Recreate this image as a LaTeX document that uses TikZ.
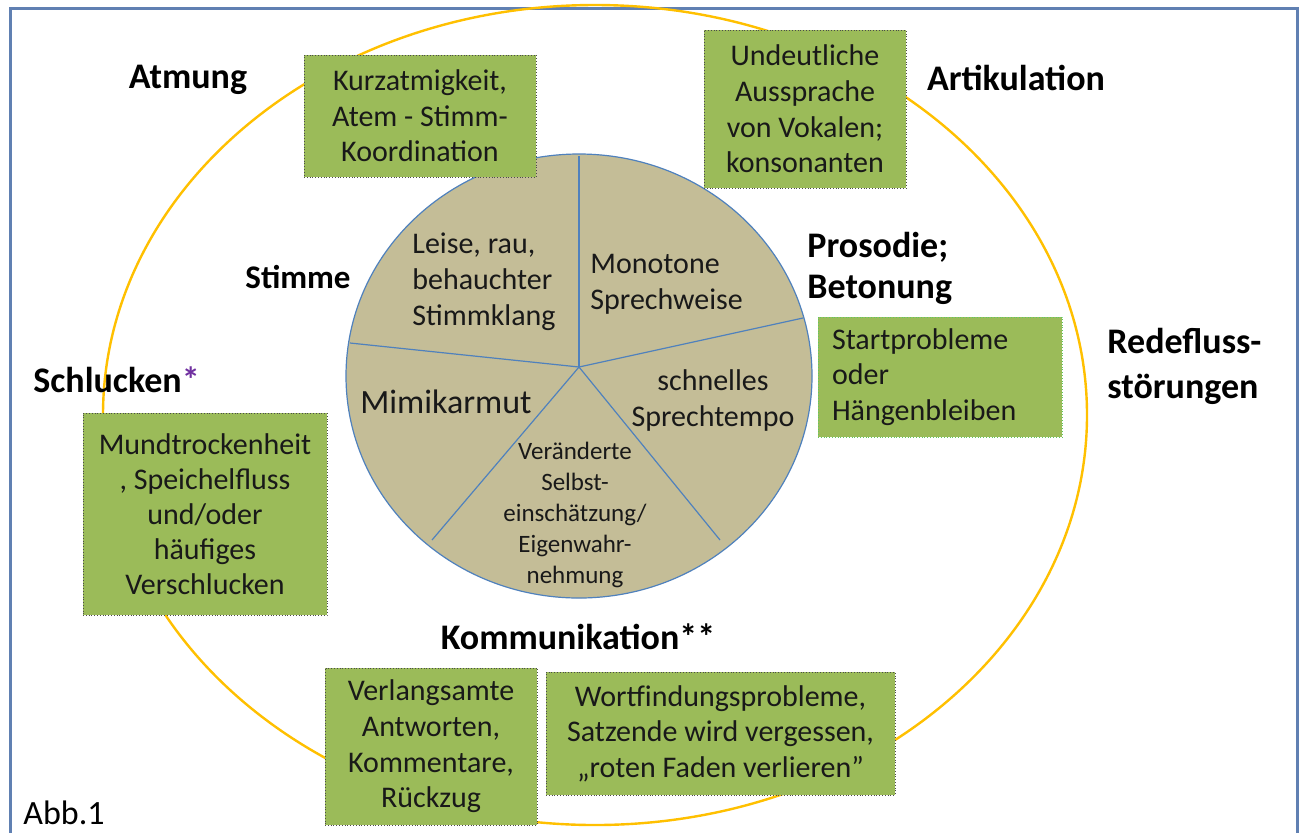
\documentclass[tikz,border=0pt]{standalone}
\usepackage{fontspec}
\setmainfont{Carlito}
\definecolor{cadre}{RGB}{96,128,178}
\definecolor{ovale}{RGB}{255,192,0}
\definecolor{tarte}{RGB}{196,189,151}
\definecolor{trait}{RGB}{79,129,189}
\definecolor{vert}{RGB}{155,187,89}
\definecolor{vertclair}{RGB}{96,200,96}
\definecolor{etoile}{RGB}{112,48,160}
\tikzset{
  kasten/.style={draw=black!70,densely dotted,fill=vert,text=black!90,align=center,inner sep=0pt,font=\fontsize{15}{17.8}\selectfont},
  titel/.style={inner sep=0pt,font=\fontsize{18}{20.5}\selectfont\bfseries},
  stueck/.style={inner sep=0pt,text=black!90,font=\fontsize{15}{18}\selectfont}
}
\begin{document}
\begin{tikzpicture}[x=0.5pt,y=-0.5pt]
\clip(0,0)rectangle(1304,832);
\fill[white](0,0)rectangle(1304,832);
\draw[cadre,line width=1.5pt](10,8)rectangle(1297,860);
\draw[ovale,line width=1.2pt](595,415)ellipse[x radius=492,y radius=410];
\filldraw[fill=tarte,draw=trait,line width=0.6pt](579,376)ellipse[x radius=233,y radius=222];
\coordinate(mid)at(579,367);
\foreach \n/\x/\y in {oben/579/156,rechts/803/318,rechtsunten/720/540,linksunten/432/540,links/350/343}{
  \coordinate(\n)at(\x,\y);
  \draw[trait,line width=0.6pt](mid)--(\n);
}
\node[stueck,anchor=west,align=left](leise)at(412,282){Leise, rau,\\behauchter\\Stimmklang};
\node[stueck,anchor=west,align=left](mono)at(590,284){Monotone\\Sprechweise};
\node[stueck,align=center](schnell)at(713,400){schnelles\\Sprechtempo};
\node[stueck,font=\fontsize{17}{20}\selectfont](mimik)at(446,402){Mimikarmut};
\node[stueck,align=center,font=\fontsize{12.5}{15.5}\selectfont](selbst)at(575,515){Veränderte\\Selbst-\\einschätzung/\\Eigenwahr-\\nehmung};
\node[kasten,minimum width=116pt,minimum height=61pt](kurz)at(420,116){Kurzatmigkeit,\\Atem - Stimm-\\Koordination};
\node[kasten,minimum width=101pt,minimum height=79pt](undeut)at(805,109){Undeutliche\\Aussprache\\von Vokalen;\\konsonanten};
\node[kasten,draw=vertclair,align=left,text width=108pt,inner xsep=7pt,minimum height=60pt](start)at(940,377){Startprobleme\\oder\\Hängenbleiben};
\node[kasten,minimum width=122pt,minimum height=101pt,font=\fontsize{15}{17.5}\selectfont](mund)at(205,514){Mundtrockenheit\\, Speichelfluss\\und/oder\\häufiges\\Verschlucken};
\node[kasten,minimum width=106pt,minimum height=78.5pt](verl)at(431,746.5){Verlangsamte\\Antworten,\\Kommentare,\\Rückzug};
\node[kasten,minimum width=174.5pt,minimum height=61.5pt](wort)at(720.5,733.5){Wortfindungsprobleme,\\Satzende wird vergessen,\\„roten Faden verlieren"};
\node[titel](atmung)at(188,80){Atmung};
\node[titel](artik)at(1016,78){Artikulation};
\node[titel,font=\fontsize{16.5}{20}\selectfont\bfseries](stimme)at(298,277){Stimme};
\node[titel,anchor=west,align=left](prosodie)at(807,268){Prosodie;\\Betonung};
\node[titel,anchor=west,align=left,font=\fontsize{18}{22.5}\selectfont\bfseries](rede)at(1107,366){Redefluss-\\störungen};
\node[titel,anchor=west](schluck)at(33,380){Schlucken\textcolor{etoile}{*}};
\node[titel](komm)at(578,637){Kommunikation**};
\node[anchor=west,inner sep=0pt,font=\fontsize{17}{20}\selectfont](abb)at(23,813){Abb.1};
\end{tikzpicture}
\end{document}
